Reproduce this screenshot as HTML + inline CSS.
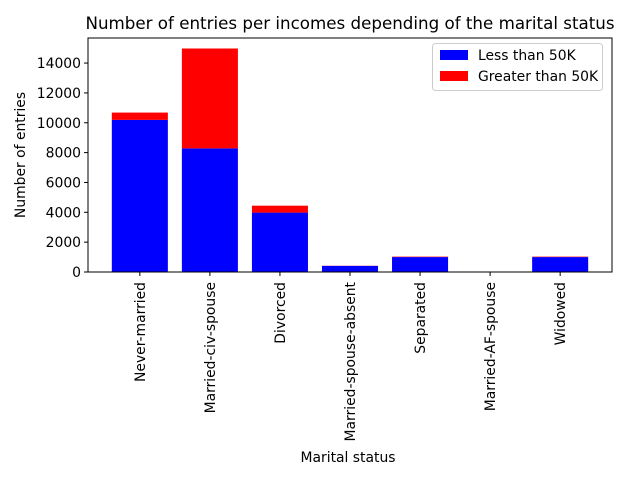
<!DOCTYPE html>
<html><head><meta charset="utf-8"><style>
body{margin:0;background:#fff;}
svg{font-family:"DejaVu Sans","Liberation Sans",sans-serif;}
</style></head><body>
<svg id="c" width="640" height="480" xmlns="http://www.w3.org/2000/svg">
<rect width="640" height="480" fill="#fff"/>
<text x="350" y="29" font-size="16.7" text-anchor="middle">Number of entries per incomes depending of the marital status</text>
<g id="bars"></g>
<g id="axes"></g>
<text x="348" y="462" font-size="13.9" text-anchor="middle">Marital status</text>
<text transform="translate(25,155) rotate(-90)" font-size="13.9" text-anchor="middle">Number of entries</text>
<g>
<rect x="432.5" y="43.5" width="170" height="47" fill="#fff" stroke="#ccc" rx="3"/>
<rect x="440" y="50" width="28" height="10" fill="blue"/>
<text x="478" y="60" font-size="13.9">Less than 50K</text>
<rect x="440" y="71" width="28" height="10" fill="red"/>
<text x="478" y="81" font-size="13.9">Greater than 50K</text>
</g>
</svg>
<script>
const categories=["Never-married","Married-civ-spouse","Divorced","Married-spouse-absent","Separated","Married-AF-spouse","Widowed"];
const lessValues=[10192,8284,3980,410,1000,14,1000];
const greaterValues=[491,6692,463,10,30,9,30];
const yTicks=[0,2000,4000,6000,8000,10000,12000,14000];
const L=88,R=612,T=38,B=272;
const xMin=-0.74,xMax=6.74,yMax=15680;
const xs=i=>L+(i-xMin)/(xMax-xMin)*(R-L);
const ys=v=>B-v/yMax*(B-T);
const NS="http://www.w3.org/2000/svg";
const bars=document.getElementById('bars'),axes=document.getElementById('axes');
function mk(tag,attrs,parent){const e=document.createElementNS(NS,tag);for(const k in attrs)e.setAttribute(k,attrs[k]);parent.appendChild(e);return e;}
const bw=0.8*(R-L)/(xMax-xMin);
categories.forEach((c,i)=>{
  const x=xs(i)-bw/2;
  const b1=mk('rect',{x:x,y:ys(lessValues[i]),width:bw,height:B-ys(lessValues[i]),fill:'blue'},bars);
  
  
  const top=lessValues[i]+greaterValues[i];
  const b2=mk('rect',{x:x,y:ys(top),width:bw,height:ys(lessValues[i])-ys(top),fill:'red'},bars);
  
  
  mk('line',{x1:xs(i),x2:xs(i),y1:B,y2:B+4,stroke:'#000'},axes);
  const t=mk('text',{transform:`translate(${xs(i)+5},${B+10}) rotate(-90)`,'font-size':13.9,'text-anchor':'end'},axes);
  t.textContent=c;
  
  
});
yTicks.forEach(v=>{
  mk('line',{x1:L-4,x2:L,y1:ys(v),y2:ys(v),stroke:'#000'},axes);
  const t=mk('text',{x:L-7,y:ys(v)+5,'font-size':13.9,'text-anchor':'end'},axes);
  t.textContent=v;
  
  
});
const f=mk('rect',{x:L,y:T,width:R-L,height:B-T,fill:'none',stroke:'#000'},axes);


</script>
</body></html>
